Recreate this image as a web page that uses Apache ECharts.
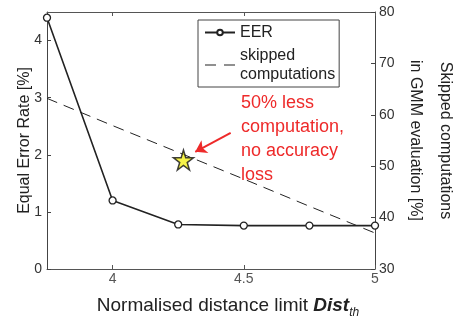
<!DOCTYPE html>
<html>
<head>
<meta charset="utf-8">
<script src="https://cdn.jsdelivr.net/npm/echarts@6/dist/echarts.min.js"></script>
<style>
  html, body { margin: 0; padding: 0; background: #fff; }
  #chart { width: 454px; height: 329px; }
</style>
</head>
<body>
<div id="chart"></div>
<script>
// distance limit values (x axis)
const distLimits = [3.75, 4, 4.25, 4.5, 4.75, 5];
// equal error rate [%] (left axis)
const eerValues = [4.4, 1.2, 0.78, 0.76, 0.76, 0.76];
// skipped computations [%] (right axis)
const skippedValues = [63.2, 57.9, 52.7, 47.5, 42.2, 37.0];
// highlighted operating point
const starPoint = [4.27, 51.2];
const xTickValues = [4, 4.5, 5];
const leftTickValues = [0, 1, 2, 3, 4];

const font = "Liberation Sans, Arial, sans-serif";
const red = "#ee2a2a";
const ink = "#222";

const starPath = "path://M50,0 L61,35 L98,35 L68,57 L79,91 L50,70 L21,91 L32,57 L2,35 L39,35 Z";
// two short dashes for the legend entry of the dashed series
const dashIcon = "path://M0,0h11v1.2h-11z M19,0h11v1.2h-11z";

const chart = echarts.init(document.getElementById("chart"), null, { renderer: "canvas" });

chart.setOption({
  animation: false,
  textStyle: { fontFamily: font },
  grid: { left: 47, right: 79, top: 12, bottom: 60, outerBoundsMode: "none", containLabel: false },
  legend: {
    orient: "vertical",
    left: 198,
    top: 20,
    padding: [3, 4, 3, 6],
    itemGap: 4,
    itemWidth: 30,
    itemHeight: 7,
    backgroundColor: "#fff",
    borderColor: "#444",
    borderWidth: 1,
    borderRadius: 0,
    textStyle: { fontSize: 16, color: ink, fontFamily: font, lineHeight: 19 },
    data: [
      { name: "EER" },
      {
        name: "skipped\ncomputations",
        icon: dashIcon,
        itemStyle: { color: ink, borderWidth: 0 },
      },
    ],
  },
  xAxis: [
    {
      type: "value",
      min: 3.75,
      max: 5,
      name: "Normalised distance limit {it|Dist}{sub|th}",
      nameLocation: "middle",
      nameGap: 24,
      nameTextStyle: {
        fontSize: 19,
        color: ink,
        padding: [0, 0, 0, 34],
        rich: {
          it: { fontSize: 19, fontStyle: "italic", fontWeight: "bold", color: ink },
          sub: { fontSize: 12, fontStyle: "italic", color: ink, padding: [14, 0, 0, 0] },
        },
      },
      axisLine: { lineStyle: { color: "#555", width: 1 } },
      axisTick: { inside: true, length: 4, customValues: xTickValues, lineStyle: { color: "#555" } },
      axisLabel: { customValues: xTickValues, fontSize: 14, color: "#555", margin: 3 },
      splitLine: { show: false },
    },
    {
      type: "value",
      position: "top",
      min: 3.75,
      max: 5,
      axisLine: { lineStyle: { color: "#555", width: 1 } },
      axisTick: { inside: true, length: 4, customValues: xTickValues, lineStyle: { color: "#555" } },
      axisLabel: { show: false },
      splitLine: { show: false },
    },
  ],
  yAxis: [
    {
      type: "value",
      min: 0,
      max: 4.5,
      name: "Equal Error Rate [%]",
      nameLocation: "middle",
      nameGap: 14,
      nameMoveOverlap: false,
      nameTextStyle: { fontSize: 16, color: ink },
      axisLine: { show: true, lineStyle: { color: "#444", width: 1 } },
      axisTick: { inside: true, length: 4, customValues: leftTickValues, lineStyle: { color: "#444" } },
      axisLabel: { customValues: leftTickValues, fontSize: 14, color: "#333", margin: 5 },
      splitLine: { show: false },
    },
    {
      type: "value",
      min: 30,
      max: 80,
      interval: 10,
      position: "right",
      name: "Skipped computations\nin GMM evaluation [%]",
      nameLocation: "middle",
      nameRotate: -90,
      nameGap: 25,
      nameMoveOverlap: false,
      nameTextStyle: { fontSize: 16, color: ink, lineHeight: 30 },
      axisLine: { show: true, lineStyle: { color: "#444", width: 1 } },
      axisTick: { inside: true, length: 4, lineStyle: { color: "#444" } },
      axisLabel: { fontSize: 14, color: "#333", margin: 4 },
      splitLine: { show: false },
    },
  ],
  series: [
    {
      name: "skipped\ncomputations",
      type: "line",
      yAxisIndex: 1,
      data: distLimits.map((x, i) => [x, skippedValues[i]]),
      showSymbol: false,
      symbol: "none",
      lineStyle: { color: ink, width: 1, type: [11, 7] },
      itemStyle: { color: ink },
      z: 2,
    },
    {
      name: "EER",
      type: "line",
      yAxisIndex: 0,
      data: distLimits.map((x, i) => [x, eerValues[i]]),
      symbol: "circle",
      symbolSize: 7,
      lineStyle: { color: ink, width: 1.6 },
      itemStyle: { color: "#fff", borderColor: ink, borderWidth: 1.3 },
      z: 3,
    },
    {
      name: "star",
      type: "scatter",
      yAxisIndex: 1,
      data: [starPoint],
      symbol: starPath,
      symbolSize: 20,
      itemStyle: { color: "#f4f01c", borderColor: "#111", borderWidth: 1.5 },
      markLine: {
        silent: true,
        symbol: ["none", "arrow"],
        symbolSize: 11,
        label: { show: false },
        lineStyle: { color: red, width: 2, type: "solid" },
        data: [[{ coord: [4.45, 56.5] }, { coord: [4.315, 52.8] }]],
      },
      z: 4,
    },
  ],
  graphic: [
    {
      type: "text",
      left: 241,
      top: 91,
      style: {
        text: "50% less\ncomputation,\nno accuracy\nloss",
        font: "18px " + font,
        fill: red,
        lineHeight: 24,
      },
    },
  ],
});
</script>
</body>
</html>
